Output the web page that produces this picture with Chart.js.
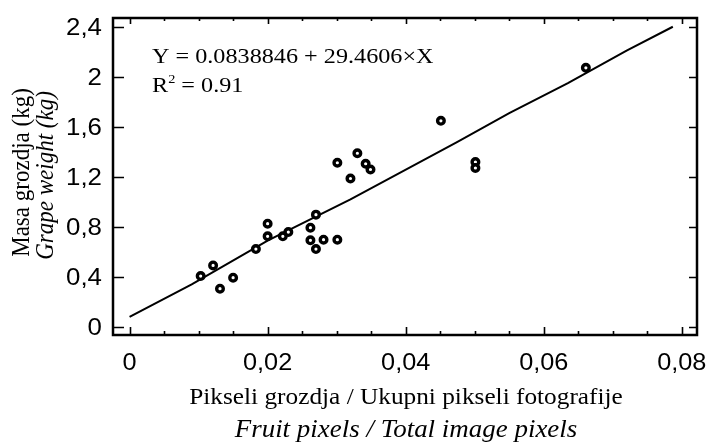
<!DOCTYPE html>
<html>
<head>
<meta charset="utf-8">
<script src="https://cdn.jsdelivr.net/npm/chart.js@4.4.1/dist/chart.umd.min.js"></script>
<style>
    html, body { margin: 0; padding: 0; background: #fff; }
    #wrap { width: 707px; height: 448px; }
</style>
</head>
<body>
<div id="wrap"><canvas id="scatter-chart" width="707" height="448"></canvas></div>
<script>
'use strict';

// measured points (ratio of fruit pixels, grape weight in kg)
const pointX = [0.0103, 0.0121, 0.0131, 0.0150, 0.0183, 0.0200, 0.0200, 0.0222, 0.0230,
    0.0262, 0.0262, 0.0270, 0.0270, 0.0281, 0.0301, 0.0301, 0.0320, 0.0330, 0.0342,
    0.0349, 0.0451, 0.0501, 0.0501, 0.0661];
const pointY = [0.407, 0.492, 0.306, 0.394, 0.623, 0.826, 0.725, 0.725, 0.759,
    0.794, 0.693, 0.898, 0.623, 0.698, 0.698, 1.313, 1.187, 1.389, 1.305,
    1.259, 1.648, 1.319, 1.271, 2.072];

// fitted line
const fitX = [0, 0.009, 0.020, 0.032, 0.0475, 0.055, 0.0635, 0.072, 0.0787];
const fitY = [0.08, 0.34, 0.69, 1.02, 1.48, 1.71, 1.95, 2.21, 2.40];

const xTicks = [0, 0.02, 0.04, 0.06, 0.08];
const yTicks = [0, 0.4, 0.8, 1.2, 1.6, 2, 2.4];

const xTitle = 'Pikseli grozdja / Ukupni pikseli fotografije';
const xTitleEn = 'Fruit pixels / Total image pixels';
const yTitle = 'Masa grozdja (kg)';
const yTitleEn = 'Grape weight (kg)';
const eqLine = 'Y = 0.0838846 + 29.4606\u00D7X';
const r2Value = ' = 0.91';

function commaLabel(v) {
    return String(+v.toFixed(3)).replace('.', ',');
}

function toPoints(xs, ys) {
    return xs.map((x, i) => ({ x: x, y: ys[i] }));
}

const xMinor = [];
for (let v = 0; v <= 0.0801; v += 0.005) xMinor.push(+v.toFixed(3));

const serif = '"Liberation Serif", "Times New Roman", serif';
const sans = '"Liberation Sans", Arial, sans-serif';
const STRETCH = 1.1; // the original figure is a bit wider than tall

// text drawn a little wider, like in the original
function wideText(ctx, text, x, y, font, align, angle) {
    ctx.save();
    ctx.translate(x, y);
    if (angle) ctx.rotate(angle);
    ctx.scale(angle ? 1 : STRETCH, angle ? STRETCH : 1);
    ctx.font = font;
    ctx.textAlign = align || 'left';
    ctx.fillText(text, 0, 0);
    const w = ctx.measureText(text).width * STRETCH;
    ctx.restore();
    return w;
}

// box, inward ticks, tick labels, axis titles and the equation
const framePlugin = {
    id: 'frame',
    afterDraw(chart) {
        const ctx = chart.ctx;
        const a = chart.chartArea;
        const xs = chart.scales.x;
        const ys = chart.scales.y;
        ctx.save();
        ctx.strokeStyle = '#000';
        ctx.fillStyle = '#000';
        ctx.lineWidth = 2.5;
        ctx.strokeRect(a.left, a.top, a.right - a.left, a.bottom - a.top);

        ctx.lineWidth = 1.6;
        ctx.beginPath();
        for (const v of xMinor) {
            const px = Math.round(xs.getPixelForValue(v)) + 0.5;
            const major = xTicks.some(t => Math.abs(t - v) < 1e-6);
            ctx.moveTo(px, a.bottom);
            ctx.lineTo(px, a.bottom - (major ? 8 : 4));
            ctx.moveTo(px, a.top);
            ctx.lineTo(px, a.top + (major ? 6 : 3));
        }
        for (const v of yTicks) {
            const py = Math.round(ys.getPixelForValue(v)) + 0.5;
            ctx.moveTo(a.left, py);
            ctx.lineTo(a.left + 11, py);
            ctx.moveTo(a.right, py);
            ctx.lineTo(a.right - 8, py);
        }
        ctx.stroke();

        ctx.textBaseline = 'middle';
        for (const v of xTicks)
            wideText(ctx, commaLabel(v), xs.getPixelForValue(v), 364, '23px ' + sans, 'center');
        for (const v of yTicks)
            wideText(ctx, commaLabel(v), 102, ys.getPixelForValue(v) + 1.5, '23.5px ' + sans, 'right');

        const cx = (a.left + a.right) / 2;
        ctx.textBaseline = 'alphabetic';
        wideText(ctx, xTitle, cx + 1, 404, '23px ' + serif, 'center');
        wideText(ctx, xTitleEn, cx + 1, 437, 'italic 24.5px ' + serif, 'center');

        ctx.textBaseline = 'middle';
        const cy = (a.top + a.bottom) / 2;
        wideText(ctx, yTitle, 22, cy - 4, '23px ' + serif, 'center', -Math.PI / 2);
        wideText(ctx, yTitleEn, 46, cy - 1, 'italic 23px ' + serif, 'center', -Math.PI / 2);

        ctx.textBaseline = 'alphabetic';
        const tx = a.left + 39;
        wideText(ctx, eqLine, tx, 63, '22px ' + serif);
        const rw = wideText(ctx, 'R', tx, 92, '22px ' + serif);
        const sw = wideText(ctx, '2', tx + rw, 83, '13px ' + serif);
        wideText(ctx, r2Value, tx + rw + sw, 92, '22px ' + serif);
        ctx.restore();
    }
};

let g_Scatter = null;

window.addEventListener('load', function () {
    const ctx = document.getElementById('scatter-chart').getContext('2d');

    g_Scatter = new Chart(ctx, {
        type: 'scatter',
        data: {
            datasets: [{
                data: toPoints(pointX, pointY),
                pointRadius: 3.3,
                pointBorderWidth: 3.4,
                pointBorderColor: '#000',
                pointBackgroundColor: '#fff'
            }, {
                data: toPoints(fitX, fitY),
                showLine: true,
                pointRadius: 0,
                borderColor: '#000',
                borderWidth: 2,
                tension: 0
            }]
        },
        options: {
            responsive: false,
            devicePixelRatio: 1,
            animation: false,
            layout: { padding: { top: 18, right: 10, left: 0, bottom: 0 } },
            plugins: {
                legend: { display: false },
                tooltip: { enabled: false }
            },
            scales: {
                x: {
                    type: 'linear',
                    min: -0.0024,
                    max: 0.0822,
                    grid: { display: false, drawTicks: false },
                    border: { display: false },
                    ticks: { display: false },
                    afterFit: s => {
                        s.height = 448 - 335;
                        s.paddingLeft = 0;
                        s.paddingRight = 0;
                    }
                },
                y: {
                    type: 'linear',
                    min: -0.064,
                    max: 2.47,
                    grid: { display: false, drawTicks: false },
                    border: { display: false },
                    ticks: { display: false },
                    afterFit: s => {
                        s.width = 113;
                        s.paddingTop = 0;
                        s.paddingBottom = 0;
                    }
                }
            }
        },
        plugins: [framePlugin]
    });
});
</script>
</body>
</html>
